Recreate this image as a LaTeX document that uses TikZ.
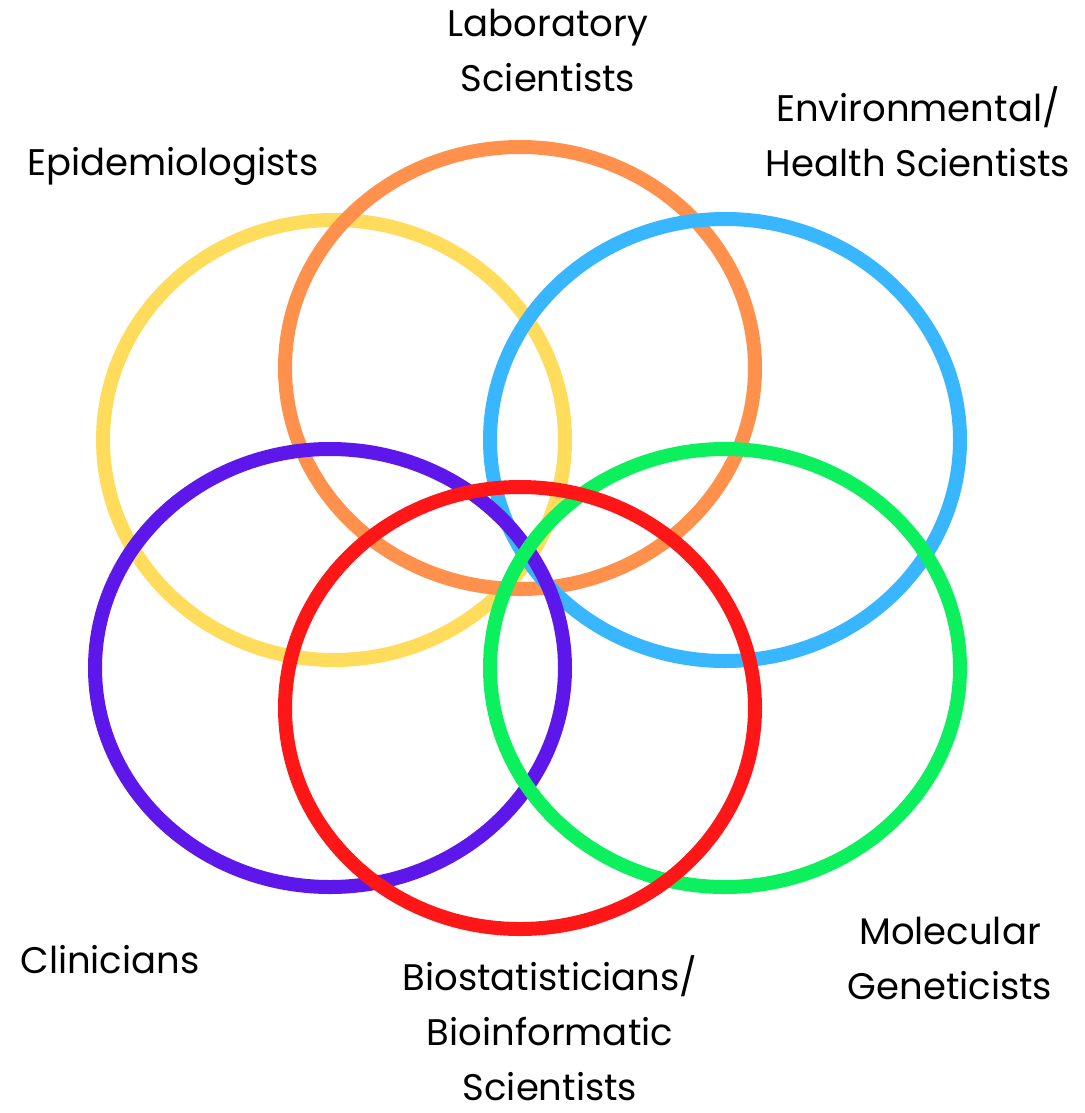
\documentclass[tikz,border=0pt]{standalone}
\usepackage{fontspec}
\setmainfont{Poppins}
\definecolor{ringyellow}{HTML}{FFDC5C}
\definecolor{ringorange}{HTML}{FF914D}
\definecolor{ringblue}{HTML}{38B6FF}
\definecolor{ringpurple}{HTML}{5E17EB}
\definecolor{ringgreen}{HTML}{0CF05E}
\definecolor{ringred}{HTML}{FF1616}
\begin{document}
\begin{tikzpicture}[x=1pt,y=-1pt,
  ring/.style={line width=14pt},
  lbl/.style={align=center,inner sep=0pt,text=black,
    font=\fontsize{37}{55}\selectfont}]
\fill[white] (0,0) rectangle (1084,1113);
\useasboundingbox (0,0) rectangle (1084,1113);

% six overlapping rings, back to front
\draw[ring,ringyellow] (334,440) ellipse [x radius=231, y radius=220];
\draw[ring,ringorange] (520,368) ellipse [x radius=235, y radius=221];
\draw[ring,ringblue]   (725,440) ellipse [x radius=235, y radius=221];
\draw[ring,ringpurple] (330,668) ellipse [x radius=235, y radius=219];
\draw[ring,ringgreen]  (725,668) ellipse [x radius=235, y radius=219];
\draw[ring,ringred]    (520,708) ellipse [x radius=235, y radius=221];

% group labels (base anchor sits on the last line)
\node[lbl,anchor=base] (lab) at (548,92) {Laboratory\\Scientists};
\node[lbl,anchor=base] (env) at (918,176) {Environmental/\\Health Scientists};
\node[lbl,anchor=base] (epi) at (173,175) {Epidemiologists};
\node[lbl,anchor=base] (cli) at (110,973) {Clinicians};
\node[lbl,anchor=base] (bio) at (550,1100) {Biostatisticians/\\Bioinformatic\\Scientists};
\node[lbl,anchor=base] (mol) at (950,999) {Molecular\\Geneticists};
\end{tikzpicture}
\end{document}
